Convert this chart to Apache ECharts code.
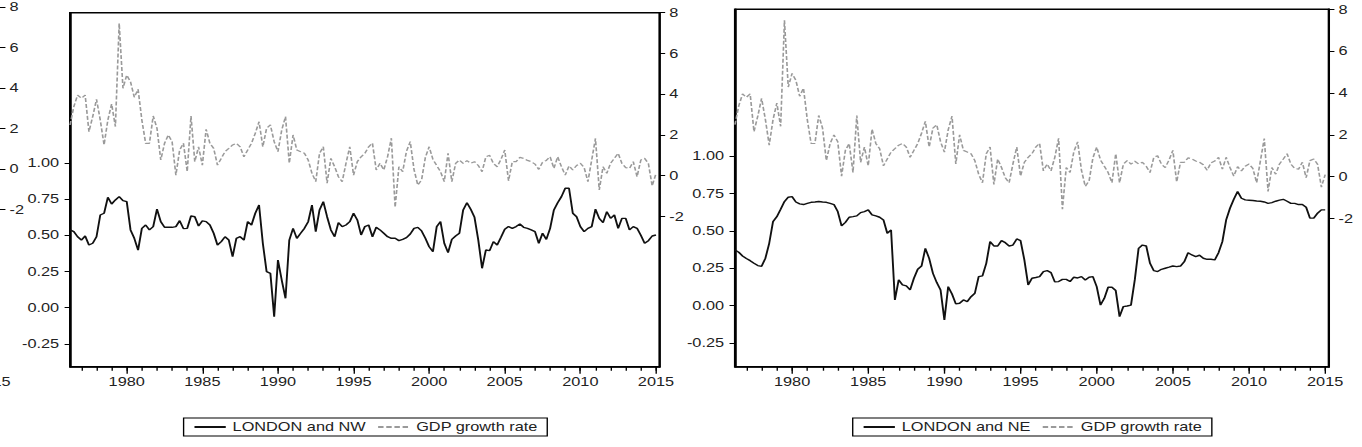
<!DOCTYPE html>
<html>
<head>
<meta charset="utf-8">
<script src="https://cdn.jsdelivr.net/npm/echarts@6/dist/echarts.min.js"></script>
<style>
html, body { margin: 0; padding: 0; background: #fff; overflow: hidden; }
#wrap { width: 1362px; height: 447px; overflow: hidden; }
/* the source picture is stretched sideways, so draw narrow and stretch */
#main { width: 1002px; height: 447px; transform: scaleX(1.36); transform-origin: 0 0; }
</style>
</head>
<body>
<div id="wrap"><div id="main"></div></div>
<script>
// quarters 1976Q2 .. 2015Q2
var quarters = [];
for (var y = 1976; y <= 2015; y++) {
    for (var q = 1; q <= 4; q++) {
        if ((y === 1976 && q < 2) || (y === 2015 && q > 2)) continue;
        quarters.push(y + 'Q' + q);
    }
}

var gdpGrowth = [
    2.49, 3.39, 3.96, 3.80, 3.96, 2.16, 2.90, 3.75, 2.73, 1.51,
    2.73, 3.52, 2.41, 7.48, 4.29, 4.94, 4.61, 3.85, 4.24, 2.73,
    1.59, 1.59, 2.93, 2.33, 0.77, 1.59, 2.00, 1.67, 0.03, 1.26,
    1.59, 0.20, 2.93, 0.69, 1.42, 0.52, 2.28, 1.59, 1.34, 0.52,
    0.85, 1.18, 1.34, 1.51, 1.59, 1.42, 0.93, 1.26, 1.59, 2.08,
    2.65, 1.42, 2.33, 2.49, 1.67, 1.18, 2.24, 2.90, 0.61, 2.00,
    1.26, 1.18, 1.10, 0.77, 0.12, -0.29, 1.10, 1.42, -0.37, 0.85,
    0.44, -0.05, -0.29, 0.61, 1.42, 0.03, 0.69, 0.93, 1.10, 1.42,
    1.60, 0.28, 0.61, 0.28, 0.93, 1.84, -1.55, 0.44, 0.20, 1.20,
    1.67, 0.30, -0.46, -0.20, 0.90, 1.42, 0.80, 0.50, 0.20, -0.29,
    1.10, -0.29, 0.60, 0.77, 0.60, 0.74, 0.61, 0.69, 0.50, 0.20,
    0.93, 1.00, 0.60, 0.44, 0.80, 1.26, -0.25, 0.69, 0.69, 0.90,
    0.85, 0.75, 0.69, 0.57, 0.31, 0.66, 0.75, 0.93, 0.36, 0.93,
    0.44, 0.03, 0.48, 0.28, 0.50, 0.61, 0.40, -0.29, 0.77, 1.83,
    -0.70, 0.44, 0.12, 0.61, 0.85, 1.10, 0.60, 0.40, 0.36, 0.69,
    -0.05, 0.77, 0.85, 0.60, -0.50, 0.10
];

var londonNW = [
    0.537, 0.525, 0.490, 0.467, 0.495, 0.433, 0.445, 0.490, 0.640, 0.652,
    0.762, 0.716, 0.744, 0.767, 0.739, 0.732, 0.537, 0.479, 0.398, 0.548,
    0.571, 0.537, 0.560, 0.680, 0.594, 0.555, 0.555, 0.555, 0.560, 0.601,
    0.546, 0.548, 0.633, 0.628, 0.564, 0.599, 0.594, 0.571, 0.514, 0.433,
    0.456, 0.490, 0.467, 0.352, 0.479, 0.490, 0.467, 0.594, 0.571, 0.652,
    0.709, 0.445, 0.249, 0.237, -0.062, 0.329, 0.191, 0.065, 0.467, 0.548,
    0.479, 0.514, 0.548, 0.594, 0.709, 0.525, 0.675, 0.732, 0.628, 0.537,
    0.490, 0.587, 0.560, 0.571, 0.594, 0.652, 0.606, 0.502, 0.560, 0.571,
    0.490, 0.555, 0.537, 0.514, 0.490, 0.479, 0.479, 0.463, 0.472, 0.484,
    0.509, 0.548, 0.555, 0.530, 0.479, 0.421, 0.387, 0.560, 0.594, 0.445,
    0.380, 0.472, 0.495, 0.514, 0.675, 0.725, 0.680, 0.624, 0.467, 0.272,
    0.398, 0.394, 0.456, 0.433, 0.486, 0.541, 0.560, 0.548, 0.560, 0.578,
    0.555, 0.548, 0.537, 0.525, 0.445, 0.514, 0.472, 0.548, 0.675, 0.725,
    0.767, 0.825, 0.825, 0.652, 0.628, 0.560, 0.525, 0.548, 0.560, 0.680,
    0.617, 0.587, 0.663, 0.617, 0.640, 0.548, 0.617, 0.617, 0.537, 0.560,
    0.548, 0.500, 0.445, 0.463, 0.495, 0.502
];

var londonNE = [
    0.372, 0.357, 0.332, 0.315, 0.301, 0.283, 0.268, 0.263, 0.317, 0.417,
    0.562, 0.595, 0.644, 0.696, 0.725, 0.729, 0.693, 0.680, 0.676, 0.684,
    0.691, 0.693, 0.696, 0.693, 0.691, 0.684, 0.676, 0.629, 0.533, 0.557,
    0.591, 0.595, 0.600, 0.622, 0.629, 0.640, 0.607, 0.600, 0.591, 0.573,
    0.484, 0.506, 0.038, 0.172, 0.139, 0.132, 0.105, 0.183, 0.243, 0.265,
    0.383, 0.316, 0.216, 0.154, 0.105, -0.095, 0.127, 0.078, 0.012, 0.016,
    0.038, 0.027, 0.060, 0.083, 0.194, 0.199, 0.283, 0.428, 0.399, 0.399,
    0.435, 0.421, 0.399, 0.405, 0.446, 0.435, 0.306, 0.139, 0.183, 0.188,
    0.194, 0.228, 0.234, 0.221, 0.159, 0.161, 0.176, 0.176, 0.161, 0.190,
    0.185, 0.194, 0.172, 0.190, 0.194, 0.127, 0.004, 0.049, 0.123, 0.123,
    0.101, -0.073, -0.006, -0.002, 0.004, 0.172, 0.383, 0.405, 0.399, 0.283,
    0.234, 0.228, 0.243, 0.250, 0.257, 0.265, 0.261, 0.265, 0.294, 0.354,
    0.339, 0.328, 0.337, 0.317, 0.310, 0.310, 0.306, 0.354, 0.428, 0.573,
    0.651, 0.711, 0.763, 0.718, 0.707, 0.705, 0.703, 0.700, 0.698, 0.693,
    0.684, 0.689, 0.698, 0.705, 0.711, 0.698, 0.684, 0.684, 0.676, 0.676,
    0.658, 0.585, 0.585, 0.618, 0.640, 0.640
];

var corrTicks = [-0.25, 0, 0.25, 0.5, 0.75, 1.0];
var gdpTicks = [-2, 0, 2, 4, 6, 8];

var FONT = '"Liberation Sans", Arial, sans-serif';
var labelStyle = { color: '#222', fontSize: 12, fontFamily: FONT };

function isYear(v) { return v.slice(4) === 'Q1'; }
function isFive(v) { return v.slice(4) === 'Q1' && (+v.slice(0, 4)) % 5 === 0; }

// two x axes per panel: yearly short ticks with labels, 5-year long ticks
function panelXAxes(g) {
    return [{
        type: 'category', gridIndex: g, position: 'bottom', data: quarters, boundaryGap: false,
        axisLine: { show: true, onZero: false, lineStyle: { color: '#000', width: 1.5 } },
        axisTick: { show: true, length: 4, interval: function (i, v) { return isYear(v); }, lineStyle: { color: '#000', width: 1 } },
        axisLabel: Object.assign({ interval: function (i, v) { return isFive(v); }, formatter: function (v) { return v.slice(0, 4); }, margin: 9 }, labelStyle),
        splitLine: { show: false }
    }, {
        type: 'category', gridIndex: g, position: 'bottom', data: quarters, boundaryGap: false,
        axisLine: { show: false, onZero: false },
        axisTick: { show: true, length: 7, interval: function (i, v) { return isFive(v); }, lineStyle: { color: '#000', width: 1 } },
        axisLabel: { show: false },
        splitLine: { show: false }
    }];
}

function corrAxis(g, min, max) {
    return {
        type: 'value', gridIndex: g, position: 'left', min: min, max: max,
        axisLine: { show: true, lineStyle: { color: '#000', width: 1.5 } },
        axisTick: { show: true, length: 4, customValues: corrTicks, lineStyle: { color: '#000' } },
        axisLabel: Object.assign({ customValues: corrTicks, formatter: function (v) { return v.toFixed(2); }, margin: 8 }, labelStyle),
        splitLine: { show: false }
    };
}

function gdpAxis(g, min, max, lineShow) {
    return {
        type: 'value', gridIndex: g, position: 'right', min: min, max: max,
        axisLine: { show: lineShow, lineStyle: { color: '#000', width: 1.5 } },
        axisTick: { show: true, length: 4, customValues: gdpTicks, lineStyle: { color: '#000' } },
        axisLabel: Object.assign({ customValues: gdpTicks, formatter: function (v) { return String(v); }, margin: 7 }, labelStyle),
        splitLine: { show: false }
    };
}

var hiddenX = { type: 'category', gridIndex: 2, data: quarters, show: false };
var hiddenY = { type: 'value', gridIndex: 3, min: 0, max: 1, show: false };

var lineSolid = { color: '#111', width: 1.4 };
var lineDash = { color: '#9a9a9a', width: 1.2, type: [4, 2] };

var legendBase = {
    orient: 'horizontal', top: 418, itemWidth: 23, itemHeight: 12, itemGap: 8,
    padding: [3, 7], borderColor: '#000', borderWidth: 1, selectedMode: false,
    itemStyle: { opacity: 0 },
    textStyle: labelStyle
};

var chart = echarts.init(document.getElementById('main'), null, { renderer: 'svg' });
var option = {
    animation: false,
    grid: [
        { left: 51.5, top: 12.7, width: 433.6, height: 354, show: true, borderColor: '#000', borderWidth: 1.5, outerBoundsMode: 'none' },
        { left: 540.4, top: 9.3, width: 436.8, height: 357.4, show: true, borderColor: '#000', borderWidth: 1.5, outerBoundsMode: 'none' },
        // edge of a neighbouring panel cut off at the left border
        { left: -433, top: 7.3, width: 433, height: 358, outerBoundsMode: 'none', containLabel: false },
        { left: -435.7, top: 12.7, width: 433, height: 354, outerBoundsMode: 'none', containLabel: false }
    ],
    xAxis: panelXAxes(0).concat(panelXAxes(1)).concat([hiddenX, {
        type: 'category', gridIndex: 3, position: 'bottom', data: quarters, boundaryGap: false,
        axisLine: { show: false }, axisTick: { show: false },
        axisLabel: Object.assign({ interval: function (i, v) { return v === '2015Q1'; }, formatter: function (v) { return v.slice(0, 4); }, margin: 9 }, labelStyle)
    }]),
    yAxis: [
        corrAxis(0, -0.4075, 2.037),
        gdpAxis(0, -9.374, 8, true),
        corrAxis(1, -0.408, 1.981),
        gdpAxis(1, -9.09, 8.01, true),
        gdpAxis(2, -9.72, 8, false),
        hiddenY
    ],
    legend: [
        Object.assign({ data: ['LONDON and NW', 'GDP growth rate'], left: 135 }, legendBase),
        Object.assign({ data: ['LONDON and NE', 'GDP growth rate'], left: 627 }, legendBase)
    ],
    series: [
        { name: 'LONDON and NW', type: 'line', xAxisIndex: 0, yAxisIndex: 0, data: londonNW, symbol: 'none', lineStyle: lineSolid, itemStyle: { color: '#111' } },
        { name: 'GDP growth rate', type: 'line', xAxisIndex: 0, yAxisIndex: 1, data: gdpGrowth, symbol: 'none', lineStyle: lineDash, itemStyle: { color: '#9a9a9a' } },
        { name: 'LONDON and NE', type: 'line', xAxisIndex: 2, yAxisIndex: 2, data: londonNE, symbol: 'none', lineStyle: lineSolid, itemStyle: { color: '#111' } },
        { name: 'GDP growth rate', type: 'line', xAxisIndex: 2, yAxisIndex: 3, data: gdpGrowth, symbol: 'none', lineStyle: lineDash, itemStyle: { color: '#9a9a9a' } }
    ]
};
chart.setOption(option);
</script>
</body>
</html>
